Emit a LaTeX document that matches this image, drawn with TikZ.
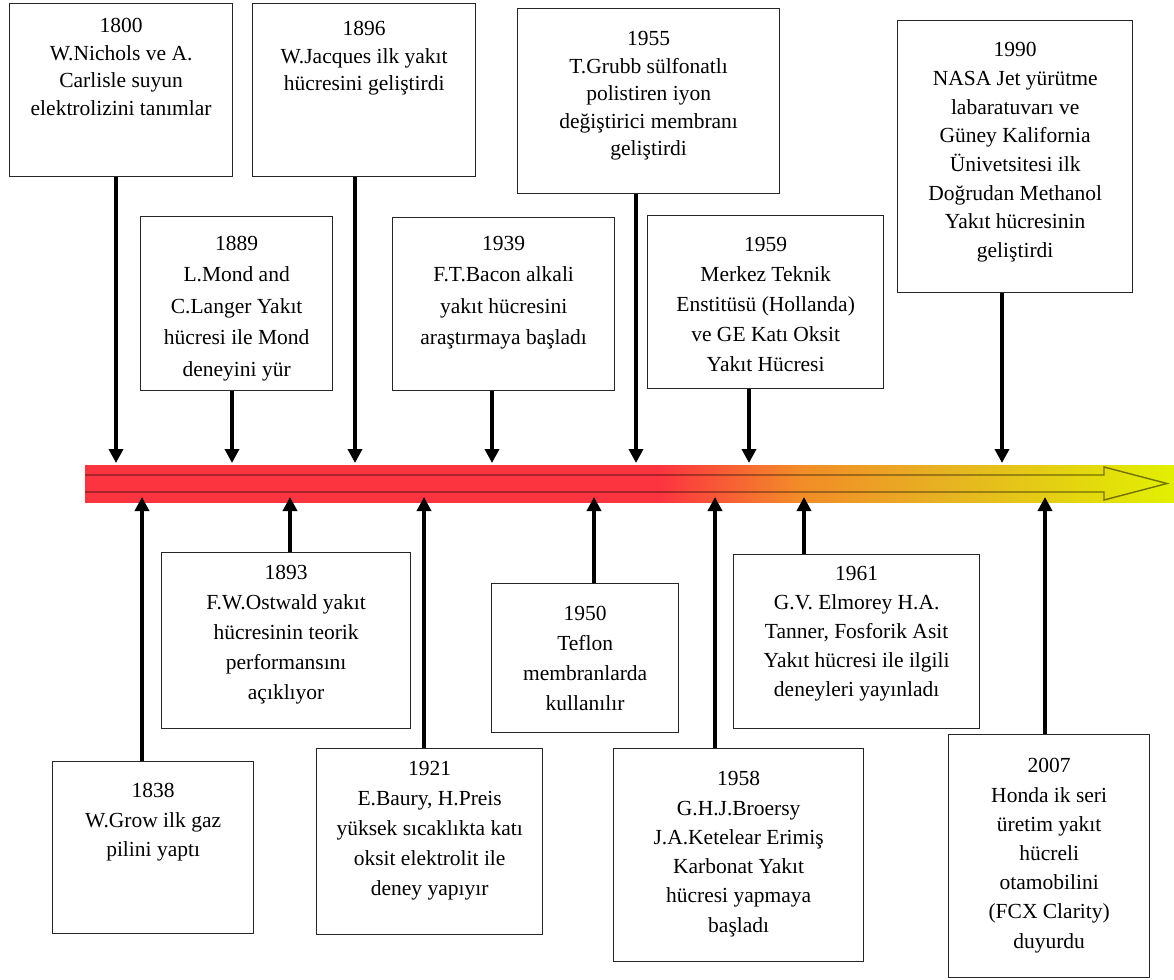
\documentclass[tikz,border=0pt]{standalone}
\usepackage{fontspec}
\setmainfont{Liberation Serif}
\usetikzlibrary{arrows.meta}
\definecolor{barred}{RGB}{252,52,64}
\definecolor{barorange}{RGB}{242,140,40}
\definecolor{bargold}{RGB}{230,180,34}
\definecolor{baryellow}{RGB}{226,240,0}
\pgfdeclarehorizontalshading{barshade}{100bp}{color(0bp)=(barred); color(25bp)=(barred); color(51.4bp)=(barred); color(57.8bp)=(barorange); color(64.7bp)=(bargold); color(75bp)=(baryellow); color(100bp)=(baryellow)}
\newcommand{\evt}[5]{\parbox[c][#2pt][t]{#1pt}{\centering\fontsize{21.5pt}{#4pt}\selectfont\vspace*{#3pt}\begin{tabular}{@{}c@{}}#5\end{tabular}\par}}
\tikzset{
  evbox/.style={draw=black!85, line width=1.3pt, inner sep=0pt, anchor=north west, fill=white},
  evarrow/.style={line width=4.5pt, -{Triangle[width=14pt,length=14pt]}},
  barline/.style={draw=black, draw opacity=0.5, line width=1.4pt}
}
\begin{document}
\begin{tikzpicture}[x=1pt,y=-1pt]
\useasboundingbox (0,0) rectangle (1174,979);
% timeline bar
\shade[shading=barshade] (85,465) rectangle (1174,502);
\draw[barline] (85,475) -- (1104,475) -- (1104,467) -- (1167,483.5) -- (1104,500) -- (1104,492) -- (85,492);
% top boxes
\node[evbox] (b1800) at (9,3) {\evt{223}{173}{9.85}{27.5}{1800\\W.Nichols ve A.\\Carlisle suyun\\elektrolizini tanımlar}};
\node[evbox] (b1896) at (252,3) {\evt{223}{173}{12.85}{27.5}{1896\\W.Jacques ilk yakıt\\hücresini geliştirdi}};
\node[evbox] (b1955) at (517,8) {\evt{262}{185}{17.85}{27.5}{1955\\T.Grubb sülfonatlı\\polistiren iyon\\değiştirici membranı\\geliştirdi}};
\node[evbox] (b1990) at (897,20) {\evt{235}{272}{16}{28.7}{1990\\NASA Jet yürütme\\labaratuvarı ve\\Güney Kalifornia\\Ünivetsitesi ilk\\Doğrudan Methanol\\Yakıt hücresinin\\geliştirdi}};
\node[evbox] (b1889) at (140,216) {\evt{192}{174}{11.5}{31.5}{1889\\L.Mond and\\C.Langer Yakıt\\hücresi ile Mond\\deneyini yür}};
\node[evbox] (b1939) at (392,217) {\evt{222}{173}{10.5}{31.5}{1939\\F.T.Bacon alkali\\yakıt hücresini\\araştırmaya başladı}};
\node[evbox] (b1959) at (647,215) {\evt{236}{173}{14.4}{30}{1959\\Merkez Teknik\\Enstitüsü (Hollanda)\\ve GE Katı Oksit\\Yakıt Hücresi}};
% bottom boxes
\node[evbox] (b1893) at (161,552) {\evt{249}{176}{6}{30}{1893\\F.W.Ostwald yakıt\\hücresinin teorik\\performansını\\açıklıyor}};
\node[evbox] (b1950) at (491,583) {\evt{187}{149}{16}{30}{1950\\Teflon\\membranlarda\\kullanılır}};
\node[evbox] (b1961) at (733,554) {\evt{246}{174}{5.8}{29}{1961\\G.V. Elmorey H.A.\\Tanner, Fosforik Asit\\Yakıt hücresi ile ilgili\\deneyleri yayınladı}};
\node[evbox] (b1838) at (52,761) {\evt{201}{172}{15.7}{29.2}{1838\\W.Grow ilk gaz\\pilini yaptı}};
\node[evbox] (b1921) at (316,748) {\evt{226}{186}{6}{30}{1921\\E.Baury, H.Preis\\yüksek sıcaklıkta katı\\oksit elektrolit ile\\deney yapıyır}};
\node[evbox] (b1958) at (613,748) {\evt{250}{213}{16.6}{29.3}{1958\\G.H.J.Broersy\\J.A.Ketelear Erimiş\\Karbonat Yakıt\\hücresi yapmaya\\başladı}};
\node[evbox] (b2007) at (948,734) {\evt{201}{243}{17.7}{29.2}{2007\\Honda ik seri\\üretim yakıt\\hücreli\\otamobilini\\(FCX Clarity)\\duyurdu}};
% arrow targets on the bar
\coordinate (t1800) at (116,463);
\coordinate (t1889) at (232,463);
\coordinate (t1896) at (355,463);
\coordinate (t1939) at (492,463);
\coordinate (t1955) at (636,463);
\coordinate (t1959) at (749,463);
\coordinate (t1990) at (1002,463);
\coordinate (t1838) at (142,497);
\coordinate (t1893) at (290,497);
\coordinate (t1921) at (424,497);
\coordinate (t1950) at (594,497);
\coordinate (t1958) at (715,497);
\coordinate (t1961) at (804,497);
\coordinate (t2007) at (1045,497);
% connectors
\foreach \n in {1800,1889,1896,1939,1955,1959,1990}
  \draw[evarrow] (b\n.south -| t\n) -- (t\n);
\foreach \n in {1838,1893,1921,1950,1958,1961,2007}
  \draw[evarrow] (b\n.north -| t\n) -- (t\n);
\end{tikzpicture}
\end{document}
